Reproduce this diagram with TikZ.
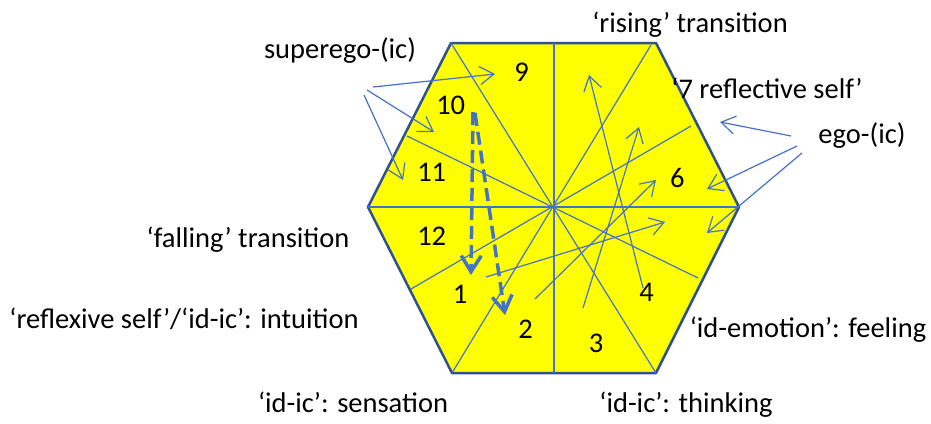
\documentclass[tikz,border=0pt]{standalone}
\usepackage{fontspec}
\setmainfont{Carlito}
\usetikzlibrary{arrows.meta}

\definecolor{hexyellow}{RGB}{255,255,0}
\definecolor{hexedge}{RGB}{47,82,143}
\definecolor{spokeblue}{RGB}{68,114,196}

\begin{document}
\begin{tikzpicture}[x=1pt, y=-1pt, >={Straight Barb[length=14pt,width=18pt]},
  spokeline/.style={spokeblue, line width=1.2pt},
  thinarrow/.style={spokeblue, line width=1.2pt, ->},
  dasharrow/.style={spokeblue, line width=3.5pt, dash pattern=on 13pt off 6pt,
    -{Straight Barb[length=16pt,width=20pt]}},
  lbl/.style={anchor=base, inner sep=0pt, font=\fontsize{28.5}{34}\selectfont},
  num/.style={inner sep=0pt, font=\fontsize{28.5}{34}\selectfont}]
  \useasboundingbox (0,0) rectangle (931,423);

  % Hexagon corners and centre
  \coordinate (tl) at (451,43);
  \coordinate (tr) at (656,43);
  \coordinate (rt) at (739,207);
  \coordinate (br) at (656,373);
  \coordinate (bl) at (452,373);
  \coordinate (lf) at (368,207);
  \coordinate (ctr) at (554,206);
  \filldraw[fill=hexyellow, draw=hexedge, line width=2.5pt, line join=round]
    (tl) -- (tr) -- (rt) -- (br) -- (bl) -- (lf) -- cycle;

  % Spokes through the centre
  \draw[spokeline] (554,43) -- (554,373);
  \draw[spokeline] (lf) -- (rt);
  \draw[spokeline] (tl) -- (br);
  \draw[spokeline] (651,45) -- (bl);
  \draw[spokeline] (407,136) -- (698,278);
  \draw[spokeline] (691,126) -- (411,289);

  % Sector numbers
  \foreach \n/\x/\y in {9/521.7/72.7, 10/450.7/105, 11/431.7/172.7, 12/431.7/236.7,
                        1/460/294, 2/525.7/329, 3/596/343, 4/646.7/292.7, 6/677.3/178.3}
    \node[num] (n\n) at (\x,\y) {\n};

  % Labels
  \node[lbl] (superego) at (340,58) {superego-(ic)};
  \node[lbl] (rising) at (690,32) {‘rising’ transition};
  \node[lbl] (reflective) at (767,98) {‘7 reflective self’};
  \node[lbl] (ego) at (862,143) {ego-(ic)};
  \node[lbl] (falling) at (248,247) {‘falling’ transition};
  \node[lbl] (intuition) at (184,328) {‘reflexive self’/‘id-ic’: intuition};
  \node[lbl] (feeling) at (808,337) {‘id-emotion’: feeling};
  \node[lbl] (sensation) at (353,412) {‘id-ic’: sensation};
  \node[lbl] (thinking) at (686,412) {‘id-ic’: thinking};

  % Arrow ends
  \coordinate (su1) at (373,87);   \coordinate (su1e) at (495,74);
  \coordinate (su2) at (367,90);   \coordinate (su2e) at (434,132);
  \coordinate (su3) at (364,95);   \coordinate (su3e) at (403,180);
  \coordinate (eg1) at (791,136);  \coordinate (eg1e) at (720,122);
  \coordinate (eg2) at (797,146);  \coordinate (eg2e) at (707,189);
  \coordinate (eg3) at (802,153);  \coordinate (eg3e) at (707,233);
  \coordinate (in1) at (486,277);  \coordinate (in1e) at (665,222);
  \coordinate (in2) at (535,299);  \coordinate (in2e) at (656,180);
  \coordinate (in3) at (583,308);  \coordinate (in3e) at (639,127);
  \coordinate (in4) at (643,288);  \coordinate (in4e) at (589,75);
  \coordinate (fa1) at (473,112);  \coordinate (fa1e) at (471,275);
  \coordinate (fa2) at (475,113);  \coordinate (fa2e) at (505,315);

  % Thin arrows
  \foreach \a in {su1,su2,su3,eg1,eg2,eg3,in1,in2,in3,in4}
    \draw[thinarrow] (\a) -- (\a e);

  % Dashed 'falling' arrows
  \foreach \a in {fa1,fa2}
    \draw[dasharrow] (\a) -- (\a e);
\end{tikzpicture}
\end{document}
